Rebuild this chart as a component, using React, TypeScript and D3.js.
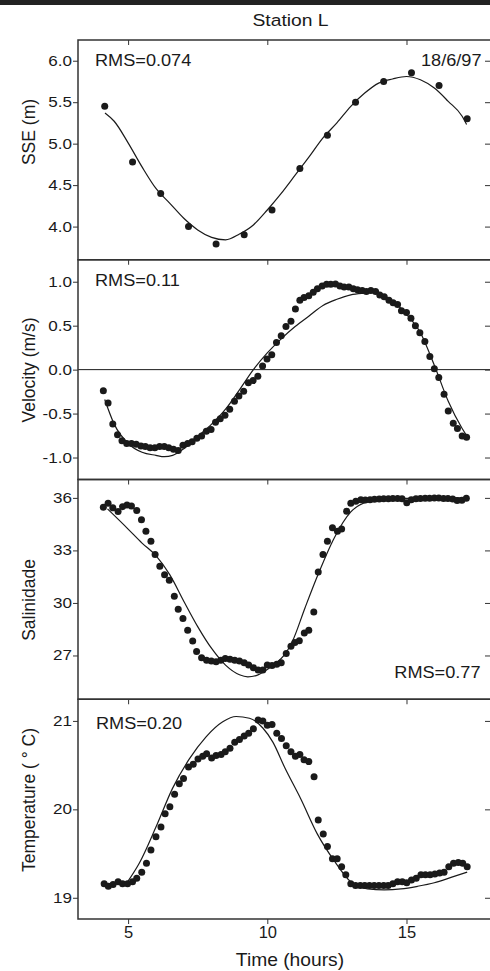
import React, { useRef, useEffect } from 'react';
import * as d3 from 'd3';

type Pt = [number, number];

// x axis (hours)
const timeTicks = [5, 10, 15];

// SSE (m): hourly observations and model curve
const sseTimes = [4.16, 5.16, 6.17, 7.17, 8.16, 9.17, 10.17, 11.17, 12.16, 13.17, 14.18, 15.18, 16.17, 17.18];
const sseObs = [5.45, 4.78, 4.40, 4.00, 3.79, 3.90, 4.20, 4.70, 5.10, 5.50, 5.75, 5.855, 5.70, 5.30];
const sseModelTimes = [4.17, 4.5, 5, 5.5, 6, 6.5, 7, 7.5, 8, 8.5, 9, 9.5, 10, 10.5, 11, 11.5, 12, 12.5, 13, 13.5, 14, 14.5, 15, 15.5, 16, 16.5, 17, 17.16];
const sseModel = [5.37, 5.27, 5.01, 4.72, 4.46, 4.28, 4.10, 3.96, 3.87, 3.84, 3.91, 4.02, 4.20, 4.40, 4.62, 4.84, 5.07, 5.25, 5.45, 5.61, 5.73, 5.78, 5.81, 5.77, 5.67, 5.51, 5.33, 5.23];

// Velocity (m/s)
const velObs: Pt[] = [
  [4.11, -0.24], [4.28, -0.38], [4.45, -0.62], [4.62, -0.74], [4.78, -0.81], [4.95, -0.84], [5.12, -0.84], [5.29, -0.85],
  [5.46, -0.87], [5.62, -0.875], [5.79, -0.89], [5.96, -0.89], [6.13, -0.875], [6.30, -0.875], [6.46, -0.89], [6.63, -0.905],
  [6.80, -0.92], [6.97, -0.86], [7.14, -0.84], [7.30, -0.82], [7.47, -0.78], [7.64, -0.755], [7.81, -0.70], [7.98, -0.68],
  [8.14, -0.60], [8.31, -0.56], [8.48, -0.52], [8.65, -0.45], [8.82, -0.36], [8.98, -0.30], [9.15, -0.245], [9.32, -0.15],
  [9.49, -0.125], [9.66, -0.075], [9.83, 0.04], [9.99, 0.12], [10.16, 0.17], [10.33, 0.31], [10.50, 0.385], [10.67, 0.49],
  [10.85, 0.55], [11.01, 0.69], [11.17, 0.79], [11.32, 0.82], [11.49, 0.84], [11.65, 0.88], [11.80, 0.92], [11.97, 0.95],
  [12.13, 0.97], [12.28, 0.97], [12.45, 0.975], [12.61, 0.95], [12.76, 0.94], [12.93, 0.94], [13.09, 0.92], [13.24, 0.91],
  [13.41, 0.90], [13.56, 0.89], [13.72, 0.90], [13.89, 0.89], [14.04, 0.85], [14.20, 0.83], [14.37, 0.79], [14.52, 0.76],
  [14.68, 0.74], [14.82, 0.67], [15.00, 0.65], [15.16, 0.585], [15.32, 0.50], [15.48, 0.42], [15.66, 0.32], [15.84, 0.15],
  [16.00, 0.01], [16.16, -0.09], [16.35, -0.28], [16.50, -0.47], [16.68, -0.61], [16.83, -0.67], [17.00, -0.755], [17.16, -0.77],
];
const velModel: Pt[] = [
  [4.16, -0.34], [4.5, -0.62], [5.0, -0.84], [5.5, -0.94], [6.0, -0.975], [6.3, -0.99], [6.6, -0.975], [7.0, -0.90],
  [7.5, -0.76], [8.0, -0.62], [8.5, -0.45], [9.0, -0.23], [9.5, 0.0], [10.0, 0.19], [10.5, 0.35], [11.0, 0.49],
  [11.5, 0.61], [12.0, 0.73], [12.5, 0.80], [13.0, 0.85], [13.5, 0.87], [13.9, 0.88], [14.2, 0.84], [14.5, 0.78],
  [15.0, 0.63], [15.5, 0.42], [16.0, 0.05], [16.5, -0.36], [17.0, -0.67], [17.16, -0.75],
];

// Salinidade
const salObs: Pt[] = [
  [4.11, 35.47], [4.28, 35.70], [4.45, 35.43], [4.64, 35.22], [4.80, 35.50], [4.96, 35.60], [5.12, 35.53], [5.31, 35.28],
  [5.48, 34.75], [5.64, 34.10], [5.82, 33.53], [5.97, 32.77], [6.14, 32.09], [6.31, 31.61], [6.48, 31.29], [6.66, 30.38],
  [6.80, 29.64], [6.97, 29.11], [7.14, 28.44], [7.32, 27.82], [7.46, 27.23], [7.64, 26.87], [7.82, 26.73], [7.99, 26.68],
  [8.16, 26.64], [8.33, 26.73], [8.49, 26.83], [8.66, 26.79], [8.83, 26.73], [9.00, 26.68], [9.17, 26.58], [9.33, 26.45],
  [9.50, 26.30], [9.67, 26.17], [9.84, 26.17], [10.00, 26.45], [10.17, 26.43], [10.34, 26.50], [10.50, 26.58], [10.68, 27.11],
  [10.85, 27.53], [10.99, 27.74], [11.15, 27.84], [11.33, 28.29], [11.49, 28.44], [11.67, 29.49], [11.83, 31.77], [12.00, 32.77],
  [12.16, 33.53], [12.34, 34.29], [12.52, 34.10], [12.67, 34.23], [12.85, 35.24], [13.00, 35.70], [13.18, 35.81], [13.36, 35.89],
  [13.52, 35.88], [13.69, 35.90], [13.85, 35.92], [14.02, 35.93], [14.18, 35.95], [14.35, 35.95], [14.51, 35.96], [14.68, 35.97],
  [14.84, 35.95], [15.01, 35.72], [15.17, 35.90], [15.34, 35.95], [15.50, 35.97], [15.67, 35.98], [15.83, 35.98], [16.00, 36.00],
  [16.16, 35.99], [16.33, 35.97], [16.49, 35.96], [16.66, 35.93], [16.82, 35.85], [16.99, 35.87], [17.15, 35.98],
];
const salModel: Pt[] = [
  [4.26, 35.37], [5.0, 34.22], [5.5, 33.42], [6.0, 32.7], [6.5, 31.6], [7.0, 30.1], [7.5, 28.65], [8.0, 27.4],
  [8.5, 26.45], [9.0, 25.9], [9.3, 25.78], [9.6, 25.85], [10.0, 26.2], [10.3, 26.55], [10.6, 27.0], [10.9, 27.8],
  [11.35, 29.7], [11.83, 31.65], [12.4, 33.7], [13.0, 35.2], [13.6, 35.78], [14.2, 35.92], [15.0, 35.97], [16.0, 35.99],
  [17.16, 36.0],
];

// Temperature (°C)
const tempObs: Pt[] = [
  [4.14, 19.16], [4.29, 19.13], [4.46, 19.15], [4.64, 19.18], [4.80, 19.16], [4.98, 19.16], [5.16, 19.18], [5.31, 19.22],
  [5.49, 19.29], [5.66, 19.39], [5.82, 19.54], [6.00, 19.69], [6.18, 19.80], [6.33, 19.95], [6.50, 20.03], [6.67, 20.17],
  [6.84, 20.29], [6.99, 20.35], [7.17, 20.48], [7.34, 20.51], [7.51, 20.57], [7.68, 20.60], [7.82, 20.63], [8.00, 20.58],
  [8.16, 20.61], [8.34, 20.62], [8.49, 20.65], [8.66, 20.69], [8.83, 20.76], [9.00, 20.79], [9.17, 20.83], [9.33, 20.86],
  [9.50, 20.91], [9.67, 21.01], [9.84, 21.00], [10.00, 20.95], [10.17, 20.96], [10.34, 20.86], [10.51, 20.80], [10.68, 20.72],
  [10.85, 20.65], [11.01, 20.60], [11.17, 20.62], [11.32, 20.56], [11.49, 20.54], [11.68, 20.37], [11.83, 19.88], [12.01, 19.72],
  [12.16, 19.58], [12.34, 19.44], [12.51, 19.44], [12.67, 19.35], [12.82, 19.26], [13.00, 19.16], [13.17, 19.14], [13.34, 19.14],
  [13.50, 19.14], [13.67, 19.14], [13.84, 19.14], [14.01, 19.14], [14.18, 19.14], [14.34, 19.14], [14.51, 19.16], [14.68, 19.18],
  [14.85, 19.18], [15.01, 19.17], [15.18, 19.20], [15.35, 19.22], [15.52, 19.26], [15.68, 19.26], [15.85, 19.26], [16.02, 19.27],
  [16.19, 19.28], [16.35, 19.29], [16.52, 19.35], [16.69, 19.39], [16.86, 19.40], [17.02, 19.39], [17.18, 19.35],
];
const tempModel: Pt[] = [
  [4.98, 19.18], [5.4, 19.39], [6.0, 19.8], [6.6, 20.24], [7.2, 20.57], [7.8, 20.82], [8.4, 20.99], [8.88, 21.05],
  [9.36, 21.03], [9.84, 20.92], [10.2, 20.76], [10.63, 20.47], [11.2, 20.12], [11.8, 19.72], [12.4, 19.42], [13.0, 19.18],
  [13.6, 19.1], [14.2, 19.09], [14.8, 19.1], [15.4, 19.13], [16.0, 19.17], [16.6, 19.23], [17.18, 19.29],
];

const sseTicks = [4.0, 4.5, 5.0, 5.5, 6.0];
const velTicks = [-1.0, -0.5, 0.0, 0.5, 1.0];
const salTicks = [27, 30, 33, 36];
const tempTicks = [19, 20, 21];

const W = 490;
const H = 971;
const X0 = 78;
const TOP = 40;
const PH = 219.75;
const FONT = '"Liberation Sans", Arial, Helvetica, sans-serif';
const INK = '#1a1a1a';
const AXIS = '#333';

const oneDecimal = (d: number) => d.toFixed(1);
const integer = (d: number) => d.toFixed(0);

const panels = [
  {
    title: 'SSE (m)', titleY: 132, domain: [3.6, 6.25], ticks: sseTicks, fmt: oneDecimal,
    obs: sseTimes.map((t, i) => [t, sseObs[i]] as Pt),
    model: sseModelTimes.map((t, i) => [t, sseModel[i]] as Pt),
    notes: [
      { text: 'RMS=0.074', x: 95, y: 66, anchor: 'start' },
      { text: '18/6/97', x: 481.5, y: 66, anchor: 'end' },
    ],
  },
  {
    title: 'Velocity (m/s)', titleY: 370, domain: [-1.25, 1.25], ticks: velTicks, fmt: oneDecimal,
    obs: velObs, model: velModel, zero: true,
    notes: [{ text: 'RMS=0.11', x: 95, y: 286, anchor: 'start' }],
  },
  {
    title: 'Salinidade', titleY: 600, domain: [24.5, 37.05], ticks: salTicks, fmt: integer,
    obs: salObs, model: salModel,
    notes: [{ text: 'RMS=0.77', x: 480.5, y: 678, anchor: 'end' }],
  },
  {
    title: 'Temperature ( ° C)', titleY: 800, domain: [18.76, 21.245], ticks: tempTicks, fmt: integer,
    obs: tempObs, model: tempModel,
    notes: [{ text: 'RMS=0.20', x: 96, y: 729, anchor: 'start' }],
  },
];

export default function App() {
  const svgRef = useRef<SVGSVGElement>(null);

  useEffect(() => {
    const svg = d3.select(svgRef.current);
    svg.selectAll('*').remove();

    const x = d3.scaleLinear().domain([3.2, 18]).range([X0, W]);

    // text drawn slightly wider than the font, like the scanned figure
    const addText = (g: any, txt: string, tx: number, ty: number, size: number, sx: number, anchor = 'start') =>
      g.append('text')
        .attr('transform', `translate(${tx},${ty}) scale(${sx},1)`)
        .attr('text-anchor', anchor)
        .attr('font-family', FONT)
        .attr('font-size', size)
        .attr('fill', INK)
        .text(txt);

    svg.append('rect').attr('x', 0).attr('y', 0).attr('width', W).attr('height', 5).attr('fill', '#222');

    addText(svg, 'Station L', 290.5, 26, 16.5, 1.17, 'middle');

    panels.forEach((p, i) => {
      const top = TOP + i * PH;
      const bottom = top + PH;
      const y = d3.scaleLinear().domain(p.domain).range([bottom, top]);
      const g = svg.append('g');

      if (p.zero) {
        g.append('line')
          .attr('x1', X0).attr('x2', W)
          .attr('y1', y(0)).attr('y2', y(0))
          .attr('stroke', INK).attr('stroke-width', 1);
      }

      // model curve
      const line = d3.line<Pt>().x(d => x(d[0])).y(d => y(d[1])).curve(d3.curveMonotoneX);
      g.append('path')
        .datum(p.model)
        .attr('d', line)
        .attr('fill', 'none')
        .attr('stroke', INK)
        .attr('stroke-width', 1.2);

      // observations
      g.selectAll('circle')
        .data(p.obs)
        .join('circle')
        .attr('cx', d => x(d[0]))
        .attr('cy', d => y(d[1]))
        .attr('r', 3.5)
        .attr('fill', INK);

      // left axis, ticks outward
      const ax = g.append('g')
        .attr('transform', `translate(${X0},0)`)
        .call(d3.axisLeft(y).tickValues(p.ticks).tickFormat(p.fmt as any).tickSize(5).tickPadding(1));
      ax.select('.domain').remove();
      ax.selectAll('line').attr('stroke', AXIS);
      ax.selectAll('text')
        .attr('font-family', FONT)
        .attr('font-size', 14)
        .attr('fill', INK)
        .attr('x', -6 / 1.22)
        .attr('transform', 'scale(1.22,1)');

      // right axis, ticks inward
      const ar = g.append('g')
        .attr('transform', `translate(${W},0)`)
        .call(d3.axisRight(y).tickValues(p.ticks).tickFormat(() => '').tickSize(-5));
      ar.select('.domain').remove();
      ar.selectAll('line').attr('stroke', AXIS);

      // time ticks hanging down from the panel's top edge
      const at = g.append('g')
        .attr('transform', `translate(0,${top})`)
        .call(d3.axisBottom(x).tickValues(timeTicks).tickFormat(() => '').tickSize(5));
      at.select('.domain').remove();
      at.selectAll('line').attr('stroke', AXIS);

      // frame
      g.append('path')
        .attr('d', `M${W},${top}H${X0}V${bottom}H${W}`)
        .attr('fill', 'none')
        .attr('stroke', AXIS)
        .attr('stroke-width', 1.5);

      // y title
      g.append('text')
        .attr('transform', `translate(35,${p.titleY}) rotate(-90)`)
        .attr('text-anchor', 'middle')
        .attr('font-family', FONT)
        .attr('font-size', 17.5)
        .attr('fill', INK)
        .text(p.title);

      p.notes.forEach(n => addText(g, n.text, n.x, n.y, 16.5, 1.1, n.anchor));
    });

    // bottom time axis
    const bottomY = TOP + 4 * PH;
    const ab = svg.append('g')
      .attr('transform', `translate(0,${bottomY})`)
      .call(d3.axisBottom(x).tickValues(timeTicks).tickFormat(d3.format('d') as any).tickSize(5).tickPadding(2));
    ab.select('.domain').remove();
    ab.selectAll('line').attr('stroke', AXIS);
    ab.selectAll('text')
      .attr('font-family', FONT)
      .attr('font-size', 16.5)
      .attr('fill', INK);

    addText(svg, 'Time (hours)', 290, 966, 17.5, 1.1, 'middle');
  }, []);

  return (
    <svg
      ref={svgRef}
      width={W}
      height={H}
      style={{ position: 'absolute', left: 0, top: 0, display: 'block', background: '#fff' }}
    />
  );
}
